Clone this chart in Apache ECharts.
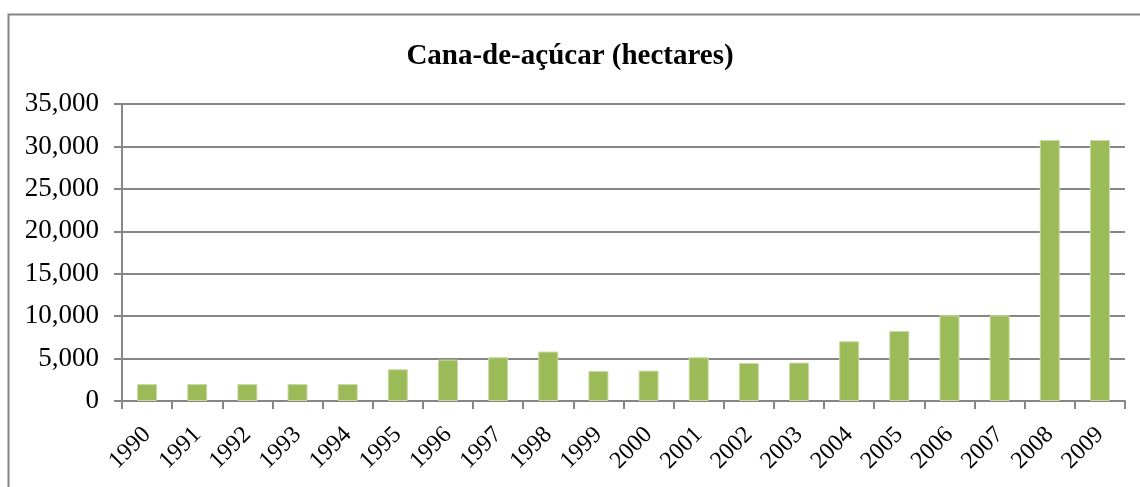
<!DOCTYPE html>
<html>
<head>
<meta charset="utf-8">
<script src="https://cdn.jsdelivr.net/npm/echarts@6/dist/echarts.min.js"></script>
<style>
  html, body { margin: 0; padding: 0; background: #fff; }
  #chart { width: 1140px; height: 487px; }
</style>
</head>
<body>
<div id="chart"></div>
<script>
// ----------data----------
const titleText = 'Cana-de-açúcar (hectares)';
const years = ['1990', '1991', '1992', '1993', '1994', '1995', '1996', '1997', '1998', '1999',
  '2000', '2001', '2002', '2003', '2004', '2005', '2006', '2007', '2008', '2009'];
const hectares = [2000, 2000, 2000, 2000, 2000, 3740, 4880, 5160, 5830, 3540,
  3580, 5160, 4480, 4530, 7040, 8260, 10100, 10100, 30760, 30760];
// ------------------------

const axisGray = '#868686';
const serif = '"Liberation Serif", "DejaVu Serif", serif';

const chart = echarts.init(document.getElementById('chart'));

const option = {
  animation: false,
  backgroundColor: '#fff',
  // 外框 (只看得到左、上兩邊)
  graphic: [
    {
      type: 'rect',
      left: 6,
      top: 12,
      shape: { width: 1160, height: 520 },
      style: { fill: 'none', stroke: '#858585', lineWidth: 2 },
      silent: true,
    },
  ],
  title: {
    text: titleText,
    left: 'center',
    top: 37,
    textStyle: {
      fontFamily: serif,
      fontSize: 29,
      fontWeight: 'bold',
      color: '#000',
    },
  },
  grid: {
    left: 122,
    right: 15,
    top: 104,
    bottom: 86,
    containLabel: false,
  },
  xAxis: {
    type: 'category',
    data: years,
    axisLine: { lineStyle: { color: axisGray, width: 2 } },
    axisTick: {
      show: true,
      alignWithLabel: false,
      length: 8,
      lineStyle: { color: axisGray, width: 2 },
    },
    axisLabel: {
      rotate: 45,
      margin: 30,
      fontFamily: serif,
      fontSize: 24,
      color: '#000',
    },
  },
  yAxis: {
    type: 'value',
    min: 0,
    max: 35000,
    interval: 5000,
    axisLine: { show: true, lineStyle: { color: axisGray, width: 2 } },
    axisTick: { show: true, length: 8, lineStyle: { color: axisGray, width: 2 } },
    splitLine: { lineStyle: { color: axisGray, width: 2 } },
    axisLabel: {
      margin: 23,
      fontFamily: serif,
      fontSize: 27,
      color: '#000',
      formatter: (v) => v.toLocaleString('en-US'),
    },
  },
  series: [
    {
      type: 'bar',
      data: hectares,
      barWidth: 20,
      itemStyle: {
        color: '#9BBB59',
        borderColor: '#C9DBA3',
        borderWidth: 1,
      },
    },
  ],
};

chart.setOption(option);
</script>
</body>
</html>
